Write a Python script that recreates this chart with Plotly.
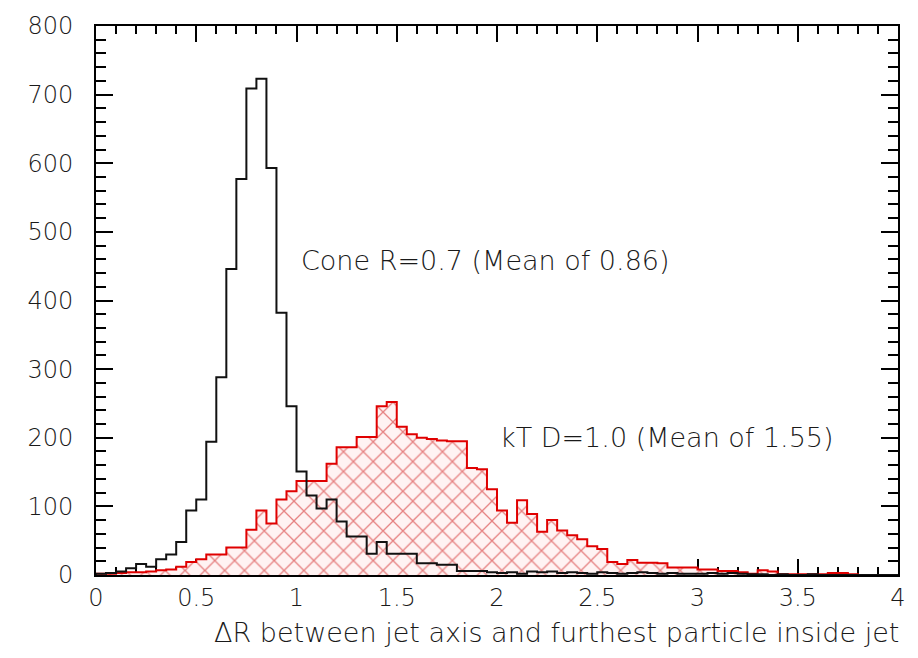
import numpy as np
import plotly.graph_objects as go

# Histogram binning: 80 bins of width 0.05 on [0, 4]
bin_width = 0.05
bin_lo = np.round(np.arange(0.0, 4.0, bin_width), 2)

# Cone algorithm, R = 0.7
cone_counts = [
    2, 3, 5, 10, 16, 12, 23, 30, 48, 94,          # 0.00 - 0.45
    110, 194, 288, 446, 577, 709, 723, 593, 382, 246,  # 0.50 - 0.95
    151, 116, 97, 110, 78, 56, 56, 31, 48, 31,    # 1.00 - 1.45
    31, 31, 17, 17, 15, 15, 6, 6, 6, 4,           # 1.50 - 1.95
    3, 4, 2, 5, 4, 5, 3, 4, 3, 2,                 # 2.00 - 2.45
    4, 3, 2, 3, 4, 3, 2, 3, 2, 2,                 # 2.50 - 2.95
    2, 3, 2, 3, 2, 1, 1, 0, 1, 0,                 # 3.00 - 3.45
    0, 1, 0, 0, 0, 0, 0, 0, 0, 0,                 # 3.50 - 3.95
]

# kT algorithm, D = 1.0
kt_counts = [
    2, 2, 3, 4, 4, 5, 7, 8, 12, 19,               # 0.00 - 0.45
    23, 30, 30, 40, 40, 66, 94, 75, 110, 122,     # 0.50 - 0.95
    137, 137, 137, 162, 186, 186, 201, 201, 246, 252,  # 1.00 - 1.45
    216, 205, 200, 198, 196, 195, 195, 156, 154, 125,  # 1.50 - 1.95
    94, 76, 109, 89, 63, 80, 65, 58, 52, 42,      # 2.00 - 2.45
    38, 19, 16, 22, 18, 18, 17, 11, 11, 11,       # 2.50 - 2.95
    8, 8, 6, 6, 4, 2, 7, 5, 1, 1,                 # 3.00 - 3.45
    1, 1, 1, 3, 3, 1, 0, 0, 0, 0,                 # 3.50 - 3.95
]

cone_label = "Cone R=0.7 (Mean of 0.86)"
kt_label = "kT D=1.0 (Mean of 1.55)"
x_title = "ΔR between jet axis and furthest particle inside jet"

FONT = "DejaVu Sans"
TEXT = "#1a1a1a"


def step_outline(lo, counts, width):
    """Closed step outline of a histogram (for line_shape='hv')."""
    xs = [lo[0]] + list(lo) + [lo[-1] + width, lo[-1] + width]
    ys = [0] + list(counts) + [counts[-1], 0]
    return xs, ys


fig = go.Figure()

kx, ky = step_outline(bin_lo, kt_counts, bin_width)
fig.add_trace(go.Scatter(
    x=kx, y=ky, mode="lines", line_shape="hv",
    line=dict(color="#e00000", width=2),
    fill="tozeroy",
    fillpattern=dict(shape="x", fgcolor="#cc1010", bgcolor="#fff3f3",
                     size=14, solidity=0.18),
    hoverinfo="skip", showlegend=False,
))

cx, cy = step_outline(bin_lo, cone_counts, bin_width)
fig.add_trace(go.Scatter(
    x=cx, y=cy, mode="lines", line_shape="hv",
    line=dict(color="#111111", width=2),
    hoverinfo="skip", showlegend=False,
))

fig.add_annotation(x=1.012, y=458, xref="x", yref="y", text=cone_label,
                   showarrow=False, xanchor="left", yanchor="middle",
                   font=dict(family=FONT, size=27, color=TEXT, weight=300))
fig.add_annotation(x=2.005, y=200, xref="x", yref="y", text=kt_label,
                   showarrow=False, xanchor="left", yanchor="middle",
                   font=dict(family=FONT, size=27, color=TEXT, weight=300))
fig.add_annotation(x=1.004, y=-0.104, xref="paper", yref="paper", text=x_title,
                   showarrow=False, xanchor="right", yanchor="middle",
                   font=dict(family=FONT, size=27, color=TEXT, weight=300))

axis_common = dict(
    showline=True, linecolor="black", linewidth=2, mirror="allticks",
    ticks="inside", tickcolor="black", tickwidth=1.5,
    showgrid=False, zeroline=False, layer="below traces",
    tickfont=dict(family=FONT, size=24, color=TEXT, weight=300),
)

fig.update_xaxes(range=[0, 4], dtick=0.5, tick0=0, ticklen=16,
                 ticklabelstandoff=0,
                 minor=dict(dtick=0.1, ticks="inside", ticklen=8,
                            tickcolor="black", tickwidth=1.5, showgrid=False),
                 **axis_common)
fig.update_yaxes(range=[0, 800], dtick=100, tick0=0, ticklen=17,
                 ticklabelstandoff=16,
                 minor=dict(dtick=20, ticks="inside", ticklen=10,
                            tickcolor="black", tickwidth=1.5, showgrid=False),
                 **axis_common)

fig.update_layout(
    width=918, height=658,
    margin=dict(l=96, r=16, t=22, b=83),
    paper_bgcolor="white", plot_bgcolor="white",
    font=dict(family=FONT, color=TEXT),
)

fig.write_html("out.html")
